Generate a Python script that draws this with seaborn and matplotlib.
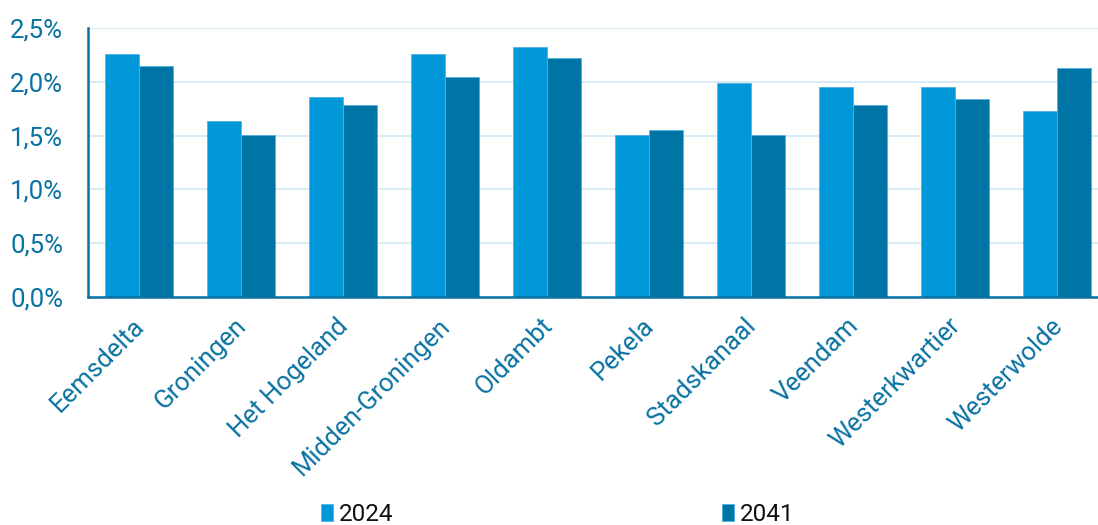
import pandas as pd
import matplotlib.pyplot as plt
import seaborn as sns
from matplotlib.ticker import FuncFormatter, FixedLocator
from matplotlib.transforms import ScaledTranslation

# Gemeenten en waarden (in %)
gemeenten = ["Eemsdelta", "Groningen", "Het Hogeland", "Midden-Groningen", "Oldambt",
             "Pekela", "Stadskanaal", "Veendam", "Westerkwartier", "Westerwolde"]
jaren = ["2024", "2041"]
waarden_2024 = [2.26, 1.64, 1.86, 2.26, 2.32, 1.51, 1.99, 1.95, 1.95, 1.73]
waarden_2041 = [2.15, 1.51, 1.78, 2.04, 2.22, 1.55, 1.51, 1.78, 1.84, 2.13]
y_ticks = [0.0, 0.5, 1.0, 1.5, 2.0, 2.5]

kleuren = {"2024": "#0098d9", "2041": "#0074a4"}
blauw = "#0a72a2"

df = pd.DataFrame({
    "gemeente": gemeenten * 2,
    "jaar": ["2024"] * len(gemeenten) + ["2041"] * len(gemeenten),
    "waarde": waarden_2024 + waarden_2041,
})

sns.set_style("white")
plt.rcParams["font.family"] = ["Roboto", "DejaVu Sans"]

fig = plt.figure(figsize=(10.98, 5.25), dpi=100)
ax = fig.add_axes([88 / 1098, 228 / 525, 1020 / 1098, 269 / 525])

sns.barplot(data=df, x="gemeente", y="waarde", hue="jaar", palette=kleuren,
            hue_order=jaren, width=0.66, gap=0, saturation=1, ax=ax,
            edgecolor="#4fb3e3", linewidth=0.6, legend=True)

ax.set_xlim(-0.5, len(gemeenten) - 0.5)
ax.set_ylim(0, 2.5)
ax.set_yticks(y_ticks)
ax.yaxis.set_major_formatter(FuncFormatter(lambda v, p: f"{v:.1f}%".replace(".", ",")))
ax.grid(axis="y", color="#d8ebf6", linewidth=1.5)
ax.set_axisbelow(True)

for s in ["top", "right"]:
    ax.spines[s].set_visible(False)
for s in ["left", "bottom"]:
    ax.spines[s].set_color(blauw)
    ax.spines[s].set_linewidth(1.8)

ax.set_xlabel("")
ax.set_ylabel("")

# x-ticks tussen de groepen, labels in het midden
ax.xaxis.set_minor_locator(FixedLocator([i - 0.5 for i in range(len(gemeenten) + 1)]))
ax.tick_params(axis="x", which="minor", length=6, width=1.5, color=blauw, direction="out")
ax.tick_params(axis="x", which="major", length=0, pad=12)
ax.tick_params(axis="y", length=6, width=1.5, color=blauw, labelcolor=blauw,
               labelsize=18.5, pad=12)
ax.set_xticks(range(len(gemeenten)))
ax.set_xticklabels(gemeenten, rotation=45, ha="right", rotation_mode="anchor",
                   color=blauw, fontsize=18.5)
verschuif = ScaledTranslation(-7 / 100, 0, fig.dpi_scale_trans)
for lbl in ax.get_xticklabels():
    lbl.set_transform(lbl.get_transform() + verschuif)

# legenda onderaan
ax.get_legend().remove()
handles, labels = ax.get_legend_handles_labels()
fig.legend(handles, labels, loc="center", bbox_to_anchor=(0.508, 0.02), ncol=2,
           frameon=False, fontsize=17.5, handlelength=0.5, handleheight=0.65,
           handletextpad=0.25, columnspacing=13.5, labelcolor="#111111")

fig.savefig("out.png", dpi=100)
